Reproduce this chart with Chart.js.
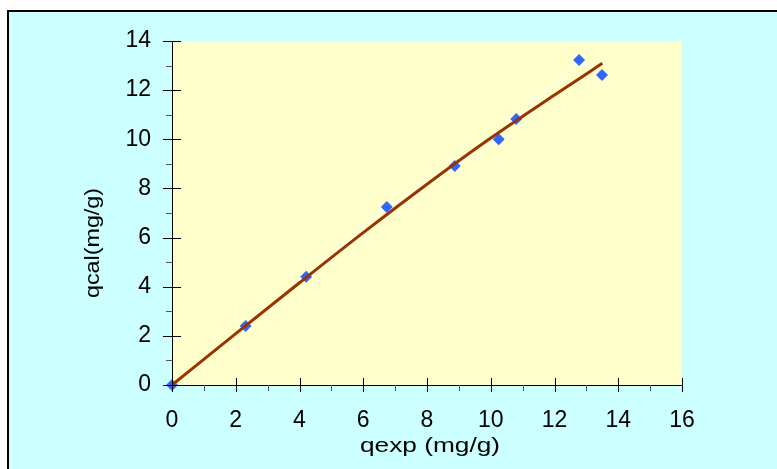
<!DOCTYPE html>
<html>
<head>
<meta charset="utf-8">
<script src="https://cdn.jsdelivr.net/npm/chart.js@4"></script>
<style>
  html, body { margin: 0; padding: 0; background: #fff; }
  #wrap { width: 777px; height: 469px; }
</style>
</head>
<body>
<div id="wrap"><canvas id="chart" width="777" height="469"></canvas></div>
<script>
// measured points
const qexp = [0, 2.31, 4.21, 6.74, 8.87, 10.25, 10.8, 12.77, 13.49];
const qcal = [0, 2.40, 4.41, 7.24, 8.91, 10.0, 10.83, 13.23, 12.62];

// model curve
const fitX = [0, 2, 4, 6, 8, 10, 12, 13.5];
const fitY = [0, 2.09, 4.16, 6.2, 8.17, 10.05, 11.8, 13.09];

const xTitle = 'qexp (mg/g)';
const yTitle = 'qcal(mg/g)';

const pts = qexp.map((x, i) => ({x: x, y: qcal[i]}));
const fit = fitX.map((x, i) => ({x: x, y: fitY[i]}));

// background, frame, tick marks and axis titles
const decor = {
  id: 'decor',
  beforeDraw(chart) {
    const c = chart.ctx, a = chart.chartArea;
    c.save();
    c.fillStyle = '#ffffff';
    c.fillRect(0, 0, chart.width, chart.height);
    c.fillStyle = '#ccffff';
    c.fillRect(7, 10, chart.width - 7, chart.height - 10);
    c.strokeStyle = '#000';
    c.lineWidth = 2;
    c.beginPath();
    c.moveTo(8, chart.height); c.lineTo(8, 11); c.lineTo(chart.width, 11);
    c.stroke();
    c.fillStyle = '#ffffcc';
    c.fillRect(a.left, a.top, a.right - a.left, a.bottom - a.top);
    c.restore();
  },
  afterDraw(chart) {
    const c = chart.ctx, a = chart.chartArea;
    const xs = chart.scales.x, ys = chart.scales.y;
    c.save();
    c.lineWidth = 1;
    for (let v = ys.min; v <= ys.max; v++) {
      const p = Math.round(ys.getPixelForValue(v)) + 0.5;
      const major = v % 2 === 0;
      c.strokeStyle = major ? '#000' : '#555';
      c.beginPath();
      c.moveTo(a.left - (major ? 9 : 6), p);
      c.lineTo(a.left + (major ? 9 : 0), p);
      c.stroke();
    }
    for (let v = xs.min; v <= xs.max; v++) {
      const p = Math.round(xs.getPixelForValue(v)) + 0.5;
      const major = v % 2 === 0;
      c.strokeStyle = major ? '#000' : '#555';
      c.beginPath();
      c.moveTo(p, a.bottom - (major ? 7 : 0));
      c.lineTo(p, a.bottom + (major ? 7 : 6));
      c.stroke();
    }
    c.fillStyle = '#000';
    c.font = '21px "Liberation Sans", Arial, sans-serif';
    c.textAlign = 'center';
    c.textBaseline = 'middle';
    c.save();
    c.translate(430, 446);
    c.scale(1.25, 1);
    c.fillText(xTitle, 0, 0);
    c.restore();
    c.save();
    c.translate(93, 243);
    c.rotate(-Math.PI / 2);
    c.scale(1.11, 1);
    c.fillText(yTitle, 0, 0);
    c.restore();
    c.restore();
  }
};

const tickFont = {family: '"Liberation Sans", Arial, sans-serif', size: 23};

new Chart(document.getElementById('chart'), {
  type: 'scatter',
  data: {
    datasets: [
      {
        label: 'model',
        data: fit,
        showLine: true,
        borderColor: '#993300',
        borderWidth: 3,
        pointRadius: 0,
        tension: 0.4,
        cubicInterpolationMode: 'monotone'
      },
      {
        label: 'qcal',
        data: pts,
        showLine: true,
        clip: false,
        borderColor: '#ffffee',
        borderWidth: 1.5,
        pointStyle: 'rectRot',
        pointRadius: 6,
        pointBackgroundColor: '#3366ff',
        pointBorderColor: '#3366ff',
        pointBorderWidth: 0
      }
    ]
  },
  options: {
    responsive: false,
    devicePixelRatio: 1,
    animation: false,
    layout: {padding: {left: 0, top: 41, right: 95, bottom: 0}},
    plugins: {legend: {display: false}, tooltip: {enabled: false}},
    scales: {
      x: {
        type: 'linear', min: 0, max: 16,
        afterFit(s) { s.height = 84; },
        ticks: {stepSize: 2, color: '#000', font: tickFont, padding: 22},
        grid: {display: true, drawOnChartArea: false, drawTicks: false},
        border: {display: true, color: '#000', width: 1}
      },
      y: {
        type: 'linear', min: 0, max: 14,
        afterFit(s) { s.width = 172; },
        ticks: {stepSize: 2, color: '#000', font: tickFont, padding: 21},
        grid: {display: true, drawOnChartArea: false, drawTicks: false},
        border: {display: true, color: '#000', width: 1}
      }
    }
  },
  plugins: [decor]
});
</script>
</body>
</html>
